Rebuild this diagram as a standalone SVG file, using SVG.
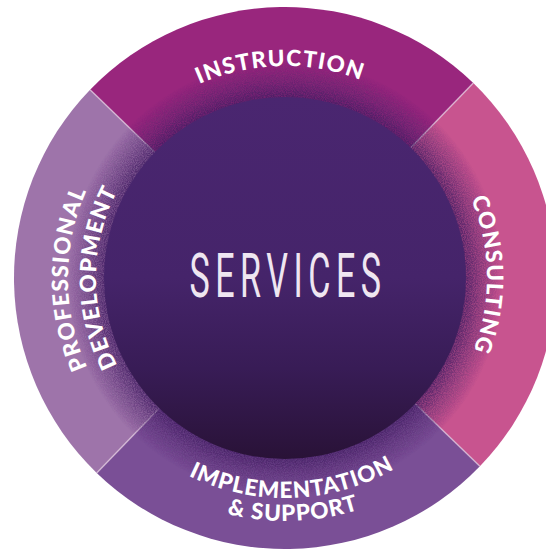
<svg xmlns="http://www.w3.org/2000/svg" width="546" height="550" viewBox="0 0 546 550">
  <style>
    .lbl { font-family: Lato, "Open Sans", "Liberation Sans", sans-serif; font-weight: 900; font-size: 22.5px; fill: #ffffff; letter-spacing: 1.3px; }
    .divider { stroke: #e6cfe2; stroke-opacity: 0.7; stroke-width: 1.5; fill: none; }
    .title { font-family: Roboto, "Liberation Sans", sans-serif; font-weight: 400; font-size: 62px; fill: #efe6f1; letter-spacing: 10px; }
  </style>
  <defs>
    <linearGradient id="core" x1="0" y1="97" x2="0" y2="459" gradientUnits="userSpaceOnUse">
      <stop offset="0" stop-color="#4a2670"/>
      <stop offset="0.5" stop-color="#45246a"/>
      <stop offset="0.75" stop-color="#381c56"/>
      <stop offset="1" stop-color="#291237"/>
    </linearGradient>
    <radialGradient id="halo" cx="285" cy="278" r="218" gradientUnits="userSpaceOnUse">
      <stop offset="0.81" stop-color="#3f1c60" stop-opacity="0.85"/>
      <stop offset="0.9" stop-color="#4a2168" stop-opacity="0.4"/>
      <stop offset="1" stop-color="#4a2168" stop-opacity="0"/>
    </radialGradient>
    <filter id="grain" x="0" y="0" width="100%" height="100%">
      <feTurbulence type="fractalNoise" baseFrequency="0.9" numOctaves="2" seed="3" result="n"/>
      <feColorMatrix in="n" type="matrix" values="0 0 0 0 0  0 0 0 0 0  0 0 0 0 0  0 0 0 2.2 -0.5" result="a"/>
      <feComposite in="SourceGraphic" in2="a" operator="in"/>
    </filter>
    <path id="pInstr" d="M73,278 A212,212 0 0 1 497,278"/>
    <path id="pCons" d="M285,76 A202,202 0 0 1 285,480"/>
    <path id="pProf" d="M285,495 A217,217 0 0 1 285,61"/>
    <path id="pDev" d="M285,467 A189,189 0 0 1 285,89"/>
    <path id="pImpl" d="M65,278 A220,220 0 0 0 505,278"/>
    <path id="pSupp" d="M42,278 A243,243 0 0 0 528,278"/>
  </defs>

  <g id="node-instruction">
    <path d="M285,278 L90.1,89.7 A271,271 0 0 1 473.3,83.1 Z" fill="#99267d"/>
  </g>
  <g id="node-consulting">
    <path d="M285,278 L473.3,83.1 A271,271 0 0 1 479.9,466.3 Z" fill="#c8548f"/>
  </g>
  <g id="node-implementation">
    <path d="M285,278 L479.9,466.3 A271,271 0 0 1 96.7,472.9 Z" fill="#7a4f96"/>
  </g>
  <g id="node-professional">
    <path d="M285,278 L96.7,472.9 A271,271 0 0 1 90.1,89.7 Z" fill="#9e74aa"/>
  </g>

  <g id="connectors">
    <line class="divider" x1="90.1" y1="89.7" x2="154.8" y2="152.3"/>
    <line class="divider" x1="473.3" y1="83.1" x2="410.7" y2="147.8"/>
    <line class="divider" x1="479.9" y1="466.3" x2="415.2" y2="403.7"/>
    <line class="divider" x1="96.7" y1="472.9" x2="159.3" y2="408.2"/>
  </g>

  <circle cx="285" cy="278" r="218" fill="url(#halo)" opacity="0.6"/>
  <circle cx="285" cy="278" r="218" fill="url(#halo)" filter="url(#grain)"/>

  <g id="node-services">
    <circle cx="285" cy="278" r="181" fill="url(#core)"/>
    <text class="title" text-anchor="middle" transform="translate(288,297) scale(0.55,1)">SERVICES</text>
  </g>

  <g id="labels">
    <text class="lbl"><textPath href="#pInstr" startOffset="328" text-anchor="middle">INSTRUCTION</textPath></text>
    <text class="lbl"><textPath href="#pCons" startOffset="314" text-anchor="middle">CONSULTING</textPath></text>
    <text class="lbl"><textPath href="#pProf" startOffset="340" text-anchor="middle">PROFESSIONAL</textPath></text>
    <text class="lbl"><textPath href="#pDev" startOffset="297" text-anchor="middle">DEVELOPMENT</textPath></text>
    <text class="lbl" style="letter-spacing:1px"><textPath href="#pImpl" startOffset="353" text-anchor="middle">IMPLEMENTATION</textPath></text>
    <text class="lbl" style="letter-spacing:1px"><textPath href="#pSupp" startOffset="390" text-anchor="middle">&amp; SUPPORT</textPath></text>
  </g>
</svg>
